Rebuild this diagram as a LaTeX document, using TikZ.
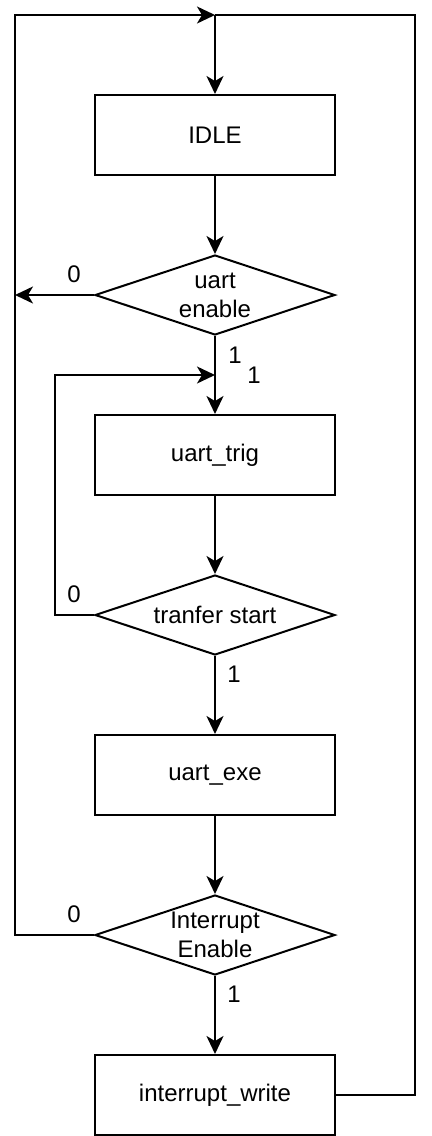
\documentclass[tikz,border=0pt]{standalone}
\usepackage{fontspec}
\setmainfont{Liberation Sans}
\usetikzlibrary{shapes.geometric,arrows.meta}
\begin{document}
\begin{tikzpicture}[x=0.5pt,y=-0.5pt,
  every node/.style={font=\fontsize{12}{14.4}\selectfont},
  box/.style={draw, line width=1pt, minimum width=120pt, minimum height=40pt, inner sep=0pt},
  dia/.style={draw, line width=1pt, shape=diamond, minimum width=120pt, minimum height=40pt, inner sep=0pt},
  txt/.style={inner sep=0pt, align=center},
  conn/.style={line width=1pt},
  arr/.style={conn, -{Stealth[length=9pt,width=8.5pt,inset=2.5pt]}},
  lab/.style={inner sep=0pt}]
\useasboundingbox (0,0) rectangle (432,1136);
% nodes
\node[box] (idle) at (215,135) {IDLE};
\node[dia] (ue) at (215,295) {};
\node[txt] (uet) at (215,295) {uart\\enable};
\node[box] (trig) at (215,455) {uart\_trig};
\node[dia] (ts) at (215,615) {};
\node[txt] (tst) at (215,615) {tranfer start};
\node[box] (exe) at (215,775) {uart\_exe};
\node[dia] (ie) at (215,935) {};
\node[txt] (iet) at (215,935) {Interrupt\\Enable};
\node[box] (iw) at (215,1095) {interrupt\_write};
% helper coordinates
\coordinate (top) at (215,15);
\coordinate (tl) at (15,15);
\coordinate (tr) at (415,15);
\coordinate (out0) at (15,295);
\coordinate (j1) at (215,375);
\coordinate (lp) at (55,615);
% connectors
\draw[arr] (top) -- (idle.north);
\draw[arr] (idle.south) -- (ue.north);
\draw[arr] (ue.west) -- (out0);
\draw[arr] (ue.south) -- (trig.north);
\draw[arr] (trig.south) -- (ts.north);
\draw[arr] (ts.west) -- (lp) |- (j1);
\draw[arr] (ts.south) -- (exe.north);
\draw[arr] (exe.south) -- (ie.north);
\draw[arr] (ie.west) -| (tl) -- (top);
\draw[arr] (ie.south) -- (iw.north);
\draw[conn] (iw.east) -| (tr) -- (top);
% labels
\node[lab] (l0a) at (74,274) {0};
\node[lab] (l1a) at (235,355) {1};
\node[lab] (l1b) at (254,375) {1};
\node[lab] (l0b) at (74,594) {0};
\node[lab] (l1c) at (234,674) {1};
\node[lab] (l0c) at (74,914) {0};
\node[lab] (l1d) at (234,994) {1};
\end{tikzpicture}
\end{document}
